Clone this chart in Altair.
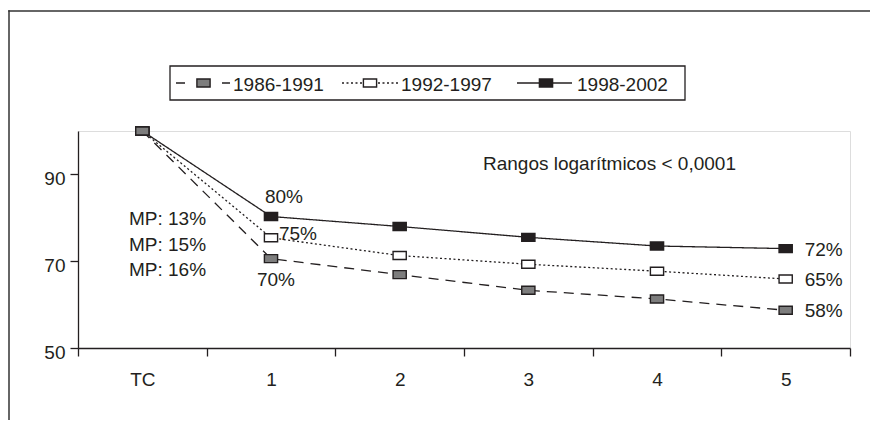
import json
import altair as alt
import pandas as pd

# ---------------- data ----------------
categories = ["TC", "1", "2", "3", "4", "5"]
series_names = ["1986-1991", "1992-1997", "1998-2002"]
v1986 = [100, 70.6, 66.9, 63.3, 61.3, 58.7]
v1992 = [100, 75.4, 71.3, 69.3, 67.7, 65.9]
v1998 = [100, 80.3, 78.0, 75.5, 73.5, 72.9]
label_pt1 = ["70%", "75%", "80%"]
label_end = ["58%", "65%", "72%"]
mp_labels = ["MP: 13%", "MP: 15%", "MP: 16%"]
note = "Rangos logarítmicos < 0,0001"
y_ticks = [50, 70, 90]
y_domain = [50, 100]

# ---------------- style ----------------
FONT = "Liberation Sans, Arial, Helvetica, sans-serif"
INK = "#231f20"
FS = 19
W, H = 772, 217
PAD = {"left": 70, "top": 123, "right": 20, "bottom": 72}
RECT = "M-1.65,-1H1.65V1H-1.65Z"
styles = {
    "1986-1991": dict(dash=[10, 7], fill="#7d7d7d"),
    "1992-1997": dict(dash=[2, 2.5], fill="#ffffff"),
    "1998-2002": dict(dash=[1, 0], fill=INK),
}
values = {"1986-1991": v1986, "1992-1997": v1992, "1998-2002": v1998}

n = len(categories)
tick_vals = [k / 2 for k in range(-1, 2 * n)]
lab_expr = f"datum.value % 1 === 0 ? {json.dumps(categories)}[datum.value] : ''"

x_enc = alt.X(
    "i:Q",
    scale=alt.Scale(domain=[-0.5, n - 0.5], nice=False, zero=False),
    axis=alt.Axis(
        values=tick_vals, labelExpr=lab_expr, title=None, grid=False,
        tickSize=8, tickColor=INK, tickWidth=1.3, domainColor=INK, domainWidth=1.3,
        tickOpacity={"condition": {"test": "datum.value % 1 === 0", "value": 0}, "value": 1},
        labelFont=FONT, labelFontSize=FS, labelColor=INK, labelBaseline="alphabetic",
        labelPadding=29, labelOverlap=False, labelFlush=False,
    ),
)
y_enc = alt.Y(
    "v:Q",
    scale=alt.Scale(domain=y_domain, nice=False, zero=False),
    axis=alt.Axis(
        values=y_ticks, title=None, grid=False, tickSize=8, tickColor=INK, tickWidth=1.3,
        domainColor=INK, domainWidth=1.3, labelFont=FONT, labelFontSize=FS,
        labelColor=INK, labelBaseline="alphabetic", labelOffset=10, labelPadding=5,
    ),
)

one = pd.DataFrame({"a": [0]})


def series_df(name):
    vals = values[name]
    return pd.DataFrame({"i": list(range(len(vals))), "cat": categories[: len(vals)],
                         "v": vals, "serie": name})


layers = []

# frame (top and left edges as thin filled bars; the rest lies outside the picture)
layers.append(
    alt.Chart(one).mark_rect(fill="#333333", strokeWidth=0).encode(
        x=alt.value(-69.75), x2=alt.value(W + PAD["right"]),
        y=alt.value(-120.75), y2=alt.value(-119.25)
    )
)
layers.append(
    alt.Chart(one).mark_rect(fill="#333333", strokeWidth=0).encode(
        x=alt.value(-69.75), x2=alt.value(-68.25),
        y=alt.value(-120.75), y2=alt.value(H + PAD["bottom"])
    )
)

# lines
for name in ["1998-2002", "1992-1997", "1986-1991"]:
    st = styles[name]
    layers.append(
        alt.Chart(series_df(name)).mark_line(
            color=INK, strokeWidth=1.3, strokeDash=st["dash"]
        ).encode(x=x_enc, y=y_enc)
    )
# markers
for name in ["1998-2002", "1992-1997", "1986-1991"]:
    st = styles[name]
    layers.append(
        alt.Chart(series_df(name)).mark_point(
            shape=RECT, size=64, filled=True, fill=st["fill"], stroke=INK,
            strokeWidth=1.4, opacity=1
        ).encode(x=x_enc, y=y_enc)
    )

# point labels at step 1
pt1_offsets = {"1998-2002": (13, -13), "1992-1997": (27, 2), "1986-1991": (5, 27)}
for k, name in enumerate(series_names):
    dx, dy = pt1_offsets[name]
    d = pd.DataFrame({"i": [1], "v": [values[name][1]], "t": [label_pt1[k]]})
    layers.append(
        alt.Chart(d).mark_text(font=FONT, fontSize=FS, color=INK, align="center",
                               baseline="alphabetic", dx=dx, dy=dy).encode(
            x=alt.X("i:Q", scale=alt.Scale(domain=[-0.5, n - 0.5], nice=False, zero=False)),
            y=alt.Y("v:Q", scale=alt.Scale(domain=y_domain, nice=False, zero=False)),
            text="t:N",
        )
    )
# end labels
for k, name in enumerate(series_names):
    d = pd.DataFrame({"i": [n - 1], "v": [values[name][-1]], "t": [label_end[k]]})
    layers.append(
        alt.Chart(d).mark_text(font=FONT, fontSize=FS, color=INK, align="left",
                               baseline="alphabetic", dx=19, dy=7).encode(
            x=alt.X("i:Q", scale=alt.Scale(domain=[-0.5, n - 0.5], nice=False, zero=False)),
            y=alt.Y("v:Q", scale=alt.Scale(domain=y_domain, nice=False, zero=False)),
            text="t:N",
        )
    )

# MP annotations
for k, t in enumerate(mp_labels):
    layers.append(
        alt.Chart(one).mark_text(font=FONT, fontSize=FS, color=INK, align="left",
                                 baseline="alphabetic").encode(
            x=alt.value(51), y=alt.value(94 + 25.5 * k), text=alt.value(t)
        )
    )
# note
layers.append(
    alt.Chart(one).mark_text(font=FONT, fontSize=FS, color=INK, align="left",
                             baseline="alphabetic").encode(
        x=alt.value(405), y=alt.value(39), text=alt.value(note)
    )
)

# custom legend
LY = -48
layers.append(
    alt.Chart(one).mark_rect(filled=False, stroke=INK, strokeWidth=1.3).encode(
        x=alt.value(92), x2=alt.value(607), y=alt.value(-65), y2=alt.value(-31)
    )
)
legend_geo = {
    "1986-1991": dict(segs=[(98, 107), (144, 152)], sq=125.5, tx=155),
    "1992-1997": dict(segs=[(264, 320)], sq=292, tx=323),
    "1998-2002": dict(segs=[(439, 494)], sq=468, tx=499),
}
for name in series_names:
    g = legend_geo[name]
    st = styles[name]
    for a, b in g["segs"]:
        layers.append(
            alt.Chart(one).mark_rule(color=INK, strokeWidth=1.3, strokeDash=st["dash"] if name == "1992-1997" else [1, 0]).encode(
                x=alt.value(a), x2=alt.value(b), y=alt.value(LY)
            )
        )
    layers.append(
        alt.Chart(one).mark_point(shape=RECT, size=64, filled=True, fill=st["fill"],
                                  stroke=INK, strokeWidth=1.4, opacity=1).encode(
            x=alt.value(g["sq"]), y=alt.value(LY)
        )
    )
    layers.append(
        alt.Chart(one).mark_text(font=FONT, fontSize=FS, color=INK, align="left",
                                 baseline="alphabetic").encode(
            x=alt.value(g["tx"]), y=alt.value(LY + 8), text=alt.value(name)
        )
    )

# white strip over the right edge of the canvas, below the frame's top line
layers.append(
    alt.Chart(one).mark_rect(fill="white", strokeWidth=0).encode(
        x=alt.value(W + PAD["right"] - 5), x2=alt.value(W + PAD["right"] + 10),
        y=alt.value(-118.5), y2=alt.value(H + PAD["bottom"] + 10)
    )
)

chart = alt.layer(*layers).properties(
    width=W, height=H,
    autosize=alt.AutoSizeParams(type="none"),
    padding=PAD,
).configure_view(stroke=None).configure(background="white")

chart.save("out.html", embed_options={"renderer": "svg", "actions": False})
